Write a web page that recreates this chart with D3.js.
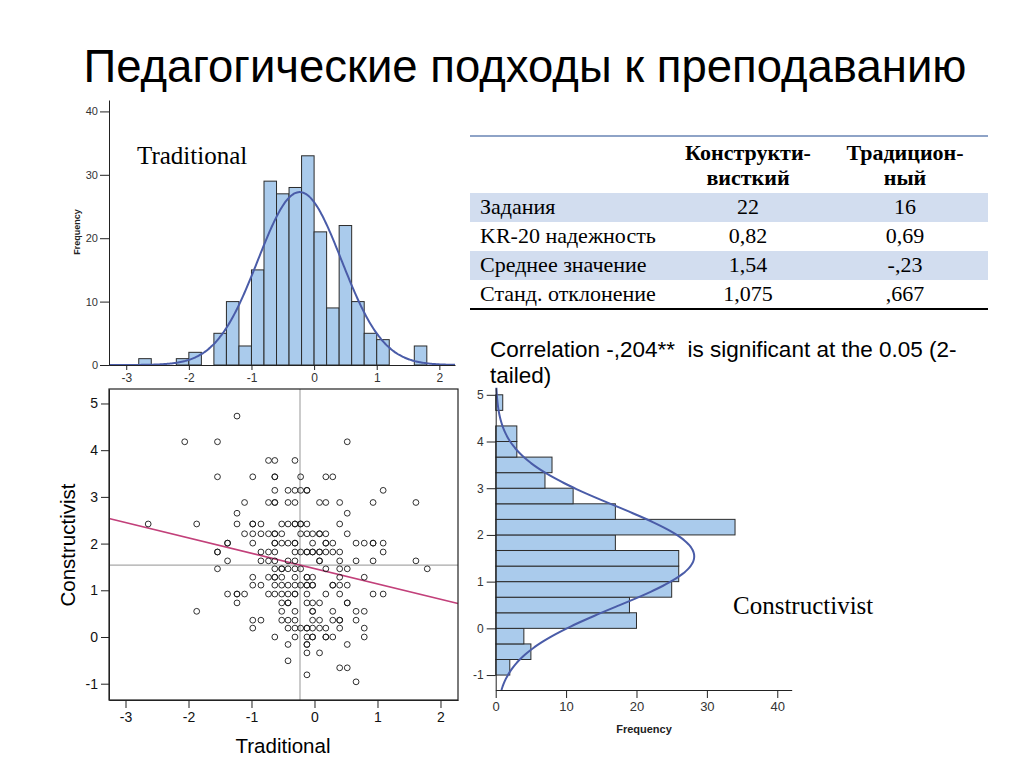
<!DOCTYPE html>
<html><head><meta charset="utf-8">
<script src="https://cdn.jsdelivr.net/npm/d3@7"></script>
<style>
body{margin:0;background:#fff;}
svg{display:block;}
text{white-space:pre;}
</style></head><body>
<svg id="c" width="1024" height="768"></svg>
<script>
// ---------- DATA ----------
const titleText = "Педагогические подходы к преподаванию";

// Traditional histogram (bins of 0.2)
const tradBinLo = [-2.8,-2.6,-2.4,-2.2,-2.0,-1.8,-1.6,-1.4,-1.2,-1.0,-0.8,-0.6,-0.4,-0.2,0.0,0.2,0.4,0.6,0.8,1.0,1.2,1.4,1.6];
const tradCounts = [1,0,0,1,2,0,5,10,3,15,29,27,28,33,21,9,22,10,5,4,0,0,3];
const tradBinWidth = 0.2;

// Constructivist histogram (bins of 1/3)
const constrBinLo = [-1.000,-0.667,-0.333,0.000,0.333,0.667,1.000,1.333,1.667,2.000,2.333,2.667,3.000,3.333,3.667,4.000,4.333,4.667];
const constrCounts = [2,5,4,20,19,25,26,26,17,34,17,11,7,8,3,3,0,1];
const constrBinWidth = 1/3;

// Summary statistics (from the table)
const nCases = 228;
const tradMean = -0.23, tradSD = 0.667;
const constrMean = 1.54, constrSD = 1.075;
const correlation = -0.204;

// Scatter: constructivist score rows and the traditional scores in each row
const scatterRowY = [4.73,4.18,3.78,3.43,3.14,2.88,2.65,2.42,2.21,2.01,1.82,1.63,1.46,1.28,1.11,0.92,0.73,0.55,0.36,0.19,0.00,-0.16,-0.34,-0.51,-0.66,-0.81,-0.96];
const scatterRowX = [
  [-1.23],
  [-2.06,-1.54,0.52],
  [-0.73,-0.63,-0.31],
  [-1.54,-0.98,-0.63,-0.63,-0.22,0.18,0.29],
  [-0.63,-0.42,-0.31,-0.22,-0.12,-0.12,1.09],
  [-1.11,-0.73,-0.63,-0.63,-0.42,-0.31,0.08,0.18,0.40,0.93,1.61],
  [-1.23,0.52],
  [-2.64,-1.87,-1.23,-0.98,-0.98,-0.85,-0.52,-0.42,-0.31,-0.31,-0.22,-0.22,-0.12,0.40],
  [-1.11,-0.98,-0.85,-0.73,-0.63,-0.63,-0.52,-0.22,-0.12,-0.03,0.08,0.08,0.18,0.52],
  [-1.38,-1.38,-0.98,-0.63,-0.63,-0.52,-0.42,-0.31,-0.31,-0.03,0.18,0.18,0.29,0.66,0.79,0.93,0.93,1.09],
  [-1.54,-1.54,-0.85,-0.73,-0.63,-0.31,-0.22,-0.12,-0.12,-0.03,-0.03,0.08,0.08,0.18,0.29,0.40,1.09],
  [-1.38,-0.85,-0.73,-0.63,-0.42,-0.31,0.08,0.08,0.40,0.66,0.93,1.61],
  [-1.54,-0.63,-0.52,-0.52,-0.42,-0.31,-0.22,0.18,0.40,0.52,1.79],
  [-0.98,-0.73,-0.63,-0.63,-0.52,-0.31,-0.12,-0.12,-0.03,0.40,0.79],
  [-0.98,-0.85,-0.63,-0.52,-0.42,-0.31,-0.22,-0.12,-0.12,-0.03,-0.03,0.29,0.29,0.40,0.52],
  [-1.38,-1.23,-1.23,-1.11,-0.73,-0.63,-0.52,-0.42,-0.31,-0.31,-0.12,0.18,0.40,0.93,1.09],
  [-1.23,-0.52,-0.42,-0.42,-0.12,-0.03,0.08,0.52,0.52],
  [-1.87,-0.52,-0.31,-0.03,-0.03,0.29,0.66,0.79],
  [-0.98,-0.85,-0.52,-0.42,-0.31,-0.03,0.08,0.29,0.40,0.40,0.66],
  [-0.98,-0.42,-0.31,-0.22,-0.12,-0.12,-0.03,0.08,0.18,0.40,0.79],
  [-0.63,-0.31,-0.12,-0.03,-0.03,0.18,0.18,0.29,0.79],
  [-0.42,-0.12,-0.12,0.52],
  [-0.12,0.08],
  [-0.42],
  [0.40,0.52],
  [-0.12],
  [0.66]
];

// Axis ticks
const scoreTicksX = [-3,-2,-1,0,1,2];
const scoreTicksY = [-1,0,1,2,3,4,5];
const freqTicks = [0,10,20,30,40];

// Table
const tableHeader = [["Конструкти-","висткий"],["Традицион-","ный"]];
const tableRowLabels = ["Задания","KR-20 надежность","Среднее значение","Станд. отклонение"];
const tableConstr = ["22","0,82","1,54","1,075"];
const tableTrad = ["16","0,69","-,23",",667"];
const corrLines = ["Correlation -,204**  is significant at the 0.05 (2-","tailed)"];

// ---------- DRAW ----------
const svg = d3.select("#c");
const SANS = "'Liberation Sans', Arial, sans-serif";
const SERIF = "'Liberation Serif', 'Times New Roman', serif";
const BAR_FILL = "#aacbec", BAR_STROKE = "#2b2b2b", CURVE = "#4a5ca8";
const normPdf = (x, m, s) => Math.exp(-0.5*((x-m)/s)**2)/(s*Math.sqrt(2*Math.PI));

svg.append("rect").attr("width",1024).attr("height",768).attr("fill","#fff");

// Title
svg.append("text").attr("x",525).attr("y",82).attr("text-anchor","middle")
  .attr("font-family",SANS).attr("font-size",45.5).attr("fill","#000").text(titleText);

function styleAxis(g, size, color){
  g.selectAll("text").attr("font-family",SANS).attr("font-size",size).attr("fill",color||"#222");
  g.selectAll("path,line").attr("stroke","#222");
}

// ---- Top histogram (Traditional) ----
const xT = d3.scaleLinear().domain([-3.275, 2.25]).range([109, 455]);
const yT = d3.scaleLinear().domain([0, 41.8]).range([365, 100]);
const gT = svg.append("g");
gT.selectAll("rect.bar").data(tradBinLo.map((lo,i)=>({lo,c:tradCounts[i]})).filter(d=>d.c>0))
  .enter().append("rect")
  .attr("x",d=>xT(d.lo)).attr("width",d=>xT(d.lo+tradBinWidth)-xT(d.lo))
  .attr("y",d=>yT(d.c)).attr("height",d=>yT(0)-yT(d.c))
  .attr("fill",BAR_FILL).attr("stroke",BAR_STROKE).attr("stroke-width",1);
const tradCurve = d3.range(0, 277).map(i => xT.domain()[0] + i*(xT.domain()[1]-xT.domain()[0])/276);
gT.append("path").datum(tradCurve)
  .attr("d", d3.line().x(v=>xT(v)).y(v=>yT(nCases*tradBinWidth*normPdf(v,tradMean,tradSD))).curve(d3.curveBasis))
  .attr("fill","none").attr("stroke",CURVE).attr("stroke-width",2);
const axTB = gT.append("g").attr("transform","translate(0,365)")
  .call(d3.axisBottom(xT).tickValues(scoreTicksX).tickSize(5).tickSizeOuter(0).tickPadding(3).tickFormat(String));
styleAxis(axTB, 12, "#333");
const axTL = gT.append("g").attr("transform","translate(109,0)")
  .call(d3.axisLeft(yT).tickValues(freqTicks).tickSize(9).tickSizeOuter(0).tickPadding(2).tickFormat(String));
styleAxis(axTL, 11, "#333");
gT.append("text").attr("transform","translate(80,232) rotate(-90)").attr("text-anchor","middle")
  .attr("font-family",SANS).attr("font-size",9).attr("font-weight","bold").attr("fill","#222").text("Frequency");
svg.append("text").attr("x",137).attr("y",164).attr("font-family",SERIF).attr("font-size",25)
  .attr("fill","#000").text("Traditional");

// ---- Scatter ----
const xS = d3.scaleLinear().domain([-3.262, 2.278]).range([109, 458]);
const yS = d3.scaleLinear().domain([-1.349, 5.31]).range([700, 389]);
const gS = svg.append("g");
gS.append("line").attr("x1",xS(tradMean)).attr("x2",xS(tradMean)).attr("y1",389).attr("y2",700)
  .attr("stroke","#a8a8a8").attr("stroke-width",1.2);
gS.append("line").attr("x1",109).attr("x2",458).attr("y1",yS(constrMean)).attr("y2",yS(constrMean))
  .attr("stroke","#a8a8a8").attr("stroke-width",1.2);
const slope = correlation*constrSD/tradSD;
const regX = xS.domain();
gS.append("line")
  .attr("x1",xS(regX[0])).attr("y1",yS(constrMean+slope*(regX[0]-tradMean)))
  .attr("x2",xS(regX[1])).attr("y2",yS(constrMean+slope*(regX[1]-tradMean)))
  .attr("stroke","#c2407a").attr("stroke-width",1.6);
const pts = [];
scatterRowY.forEach((y,i)=>scatterRowX[i].forEach(x=>pts.push({x,y})));
gS.selectAll("circle").data(pts).enter().append("circle")
  .attr("cx",d=>xS(d.x)).attr("cy",d=>yS(d.y)).attr("r",2.9)
  .attr("fill","none").attr("stroke","#1a1a1a").attr("stroke-width",0.9);
gS.append("rect").attr("x",109).attr("y",389).attr("width",349).attr("height",311)
  .attr("fill","none").attr("stroke","#222").attr("stroke-width",1.2);
const axSB = gS.append("g").attr("transform","translate(0,700)")
  .call(d3.axisBottom(xS).tickValues(scoreTicksX).tickSize(8).tickSizeOuter(0).tickPadding(4).tickFormat(String));
styleAxis(axSB, 14, "#111");
const axSL = gS.append("g").attr("transform","translate(109,0)")
  .call(d3.axisLeft(yS).tickValues(scoreTicksY).tickSize(8).tickSizeOuter(0).tickPadding(3).tickFormat(String));
styleAxis(axSL, 14, "#111");
gS.append("text").attr("transform","translate(75,545) rotate(-90)").attr("text-anchor","middle")
  .attr("font-family",SANS).attr("font-size",20.5).attr("fill","#000").text("Constructivist");
gS.append("text").attr("x",283).attr("y",753).attr("text-anchor","middle")
  .attr("font-family",SANS).attr("font-size",20.5).attr("fill","#000").text("Traditional");

// ---- Right histogram (Constructivist) ----
const xR = d3.scaleLinear().domain([0, 42.05]).range([495.7, 791.7]);
const yR = d3.scaleLinear().domain([-1.32, 5.15]).range([690, 387.8]);
const gR = svg.append("g");
gR.selectAll("rect.bar").data(constrBinLo.map((lo,i)=>({lo,c:constrCounts[i]})).filter(d=>d.c>0))
  .enter().append("rect")
  .attr("x",xR(0)).attr("width",d=>xR(d.c)-xR(0))
  .attr("y",d=>yR(d.lo+constrBinWidth)).attr("height",d=>yR(d.lo)-yR(d.lo+constrBinWidth))
  .attr("fill",BAR_FILL).attr("stroke",BAR_STROKE).attr("stroke-width",1);
const constrCurve = d3.range(0, 201).map(i => yR.domain()[0] + i*(yR.domain()[1]-yR.domain()[0])/200);
gR.append("path").datum(constrCurve)
  .attr("d", d3.line().y(v=>yR(v)).x(v=>xR(nCases*constrBinWidth*normPdf(v,constrMean,constrSD))).curve(d3.curveBasis))
  .attr("fill","none").attr("stroke",CURVE).attr("stroke-width",2);
const axRB = gR.append("g").attr("transform","translate(0,690)")
  .call(d3.axisBottom(xR).tickValues(freqTicks).tickSize(8).tickSizeOuter(0).tickPadding(4).tickFormat(String));
styleAxis(axRB, 13, "#333");
const axRL = gR.append("g").attr("transform","translate(495.7,0)")
  .call(d3.axisLeft(yR).tickValues(scoreTicksY).tickSize(9).tickSizeOuter(0).tickPadding(3).tickFormat(String));
styleAxis(axRL, 12, "#333");
gR.append("text").attr("x",644).attr("y",733).attr("text-anchor","middle")
  .attr("font-family",SANS).attr("font-size",11).attr("font-weight","bold").attr("fill","#222").text("Frequency");
svg.append("text").attr("x",733).attr("y",614).attr("font-family",SERIF).attr("font-size",25)
  .attr("fill","#000").text("Constructivist");

// ---- Table ----
const gTab = svg.append("g");
const tabX0 = 470, tabX1 = 988, rowTop = 193, rowH = 29;
const col2 = 748, col3 = 905;
tableRowLabels.forEach((lab,i)=>{
  if(i%2===0) gTab.append("rect").attr("x",tabX0).attr("y",rowTop+i*rowH).attr("width",tabX1-tabX0).attr("height",rowH).attr("fill","#d2ddef");
});
gTab.append("line").attr("x1",tabX0).attr("x2",tabX1).attr("y1",136).attr("y2",136).attr("stroke","#8ea3c7").attr("stroke-width",2);
gTab.append("line").attr("x1",tabX0).attr("x2",tabX1).attr("y1",rowTop+4*rowH).attr("y2",rowTop+4*rowH).attr("stroke","#000").attr("stroke-width",2);
tableHeader.forEach((lines,j)=>{
  lines.forEach((t,k)=>{
    gTab.append("text").attr("x",j===0?col2:col3).attr("y",160+k*25).attr("text-anchor","middle")
      .attr("font-family",SERIF).attr("font-size",22).attr("font-weight","bold").attr("fill","#000").text(t);
  });
});
tableRowLabels.forEach((lab,i)=>{
  const yb = rowTop+i*rowH+21;
  gTab.append("text").attr("x",480).attr("y",yb).attr("font-family",SERIF).attr("font-size",22).attr("fill","#000").text(lab);
  gTab.append("text").attr("x",col2).attr("y",yb).attr("text-anchor","middle").attr("font-family",SERIF).attr("font-size",22).attr("fill","#000").text(tableConstr[i]);
  gTab.append("text").attr("x",col3).attr("y",yb).attr("text-anchor","middle").attr("font-family",SERIF).attr("font-size",22).attr("fill","#000").text(tableTrad[i]);
});
corrLines.forEach((t,i)=>{
  svg.append("text").attr("x",490).attr("y",357+i*26).attr("font-family",SANS).attr("font-size",22.5).attr("fill","#000").text(t);
});
</script>
</body></html>
